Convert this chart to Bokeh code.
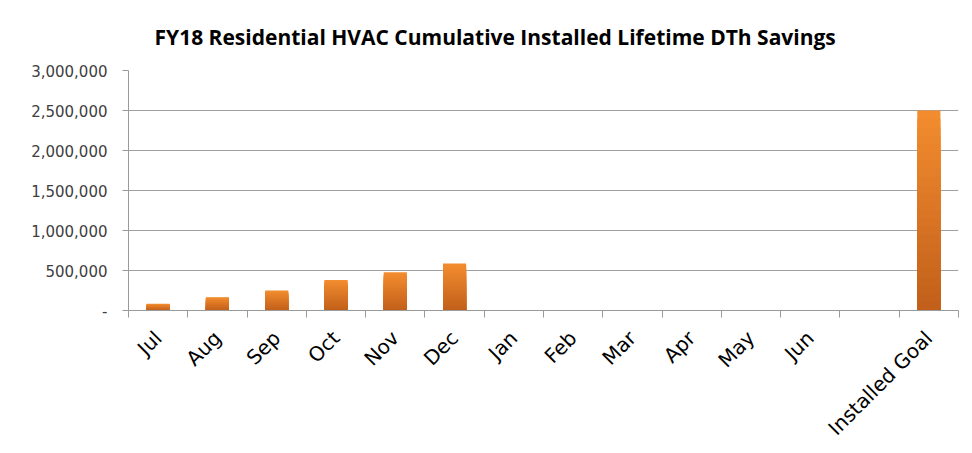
import numpy as np
from bokeh.plotting import figure
from bokeh.models import FixedTicker, Range1d
from bokeh.embed import file_html
from bokeh.resources import INLINE

categories = ["Jul", "Aug", "Sep", "Oct", "Nov", "Dec", "Jan", "Feb", "Mar",
              "Apr", "May", "Jun", "", "Installed Goal"]
savings = [83000, 166000, 249000, 382000, 477000, 589000, 0, 0, 0, 0, 0, 0, 0, 2500000]
y_ticks = [0, 500000, 1000000, 1500000, 2000000, 2500000, 3000000]
y_tick_labels = ["-", "500,000", "1,000,000", "1,500,000", "2,000,000", "2,500,000", "3,000,000"]

n = len(categories)
centers = [i + 0.5 for i in range(n)]

p = figure(width=970, height=453, output_backend="svg", toolbar_location=None,
           x_range=Range1d(0, n), y_range=Range1d(0, 3000000),
           min_border_left=128, min_border_right=12, min_border_top=69,
           min_border_bottom=143)
p.title.text = "FY18 Residential HVAC Cumulative Installed Lifetime DTh Savings"
p.title.align = "left"
p.title.offset = 26
p.title.text_font = "Open Sans"
p.title.text_font_size = "21px"
p.title.text_font_style = "bold"
p.title.text_color = "#000000"
p.title.standoff = 40
p.outline_line_color = None
p.background_fill_color = "white"
p.border_fill_color = "white"

# gradient bars: overlapping layers, darker toward the bottom
N = 24
top_rgb = np.array([0xF2, 0x8C, 0x2E])
bot_rgb = np.array([0xC0, 0x5E, 0x1A])
vals = np.array(savings, dtype=float)
for k in range(N):
    frac = 1 - k / N
    c = bot_rgb + (top_rgb - bot_rgb) * frac
    color = "#%02x%02x%02x" % tuple(int(round(x)) for x in c)
    p.vbar(x=centers, width=0.39, bottom=0, top=list(vals * frac),
           fill_color=color, line_color=None)

# y axis
p.yaxis.ticker = FixedTicker(ticks=y_ticks)
p.yaxis.major_label_overrides = {t: l for t, l in zip(y_ticks, y_tick_labels)}
p.yaxis.major_label_text_font = "DejaVu Sans"
p.yaxis.major_label_text_font_size = "15px"
p.yaxis.major_label_text_color = "#404040"
p.yaxis.major_label_standoff = 15
p.yaxis.axis_line_color = "#9a9a9a"
p.yaxis.major_tick_line_color = "#9a9a9a"
p.yaxis.major_tick_out = 6
p.yaxis.major_tick_in = 0
p.yaxis.minor_tick_line_color = None

# x axis: labels at centers, ticks at boundaries
p.xaxis.ticker = FixedTicker(ticks=centers, minor_ticks=list(range(n + 1)))
p.xaxis.major_label_overrides = {c: l for c, l in zip(centers, categories)}
p.xaxis.major_label_orientation = np.pi / 4
p.xaxis.major_label_text_font = "DejaVu Sans"
p.xaxis.major_label_text_font_size = "20px"
p.xaxis.major_label_text_color = "#000000"
p.xaxis.major_label_standoff = 17
p.xaxis.major_tick_line_color = None
p.xaxis.minor_tick_line_color = "#9a9a9a"
p.xaxis.minor_tick_out = 7
p.xaxis.minor_tick_in = 0
p.xaxis.axis_line_color = "#9a9a9a"

p.xgrid.grid_line_color = None
p.ygrid.grid_line_color = "#a0a0a0"
p.ygrid.ticker = FixedTicker(ticks=y_ticks)

open("out.html", "w").write(file_html(p, INLINE))
